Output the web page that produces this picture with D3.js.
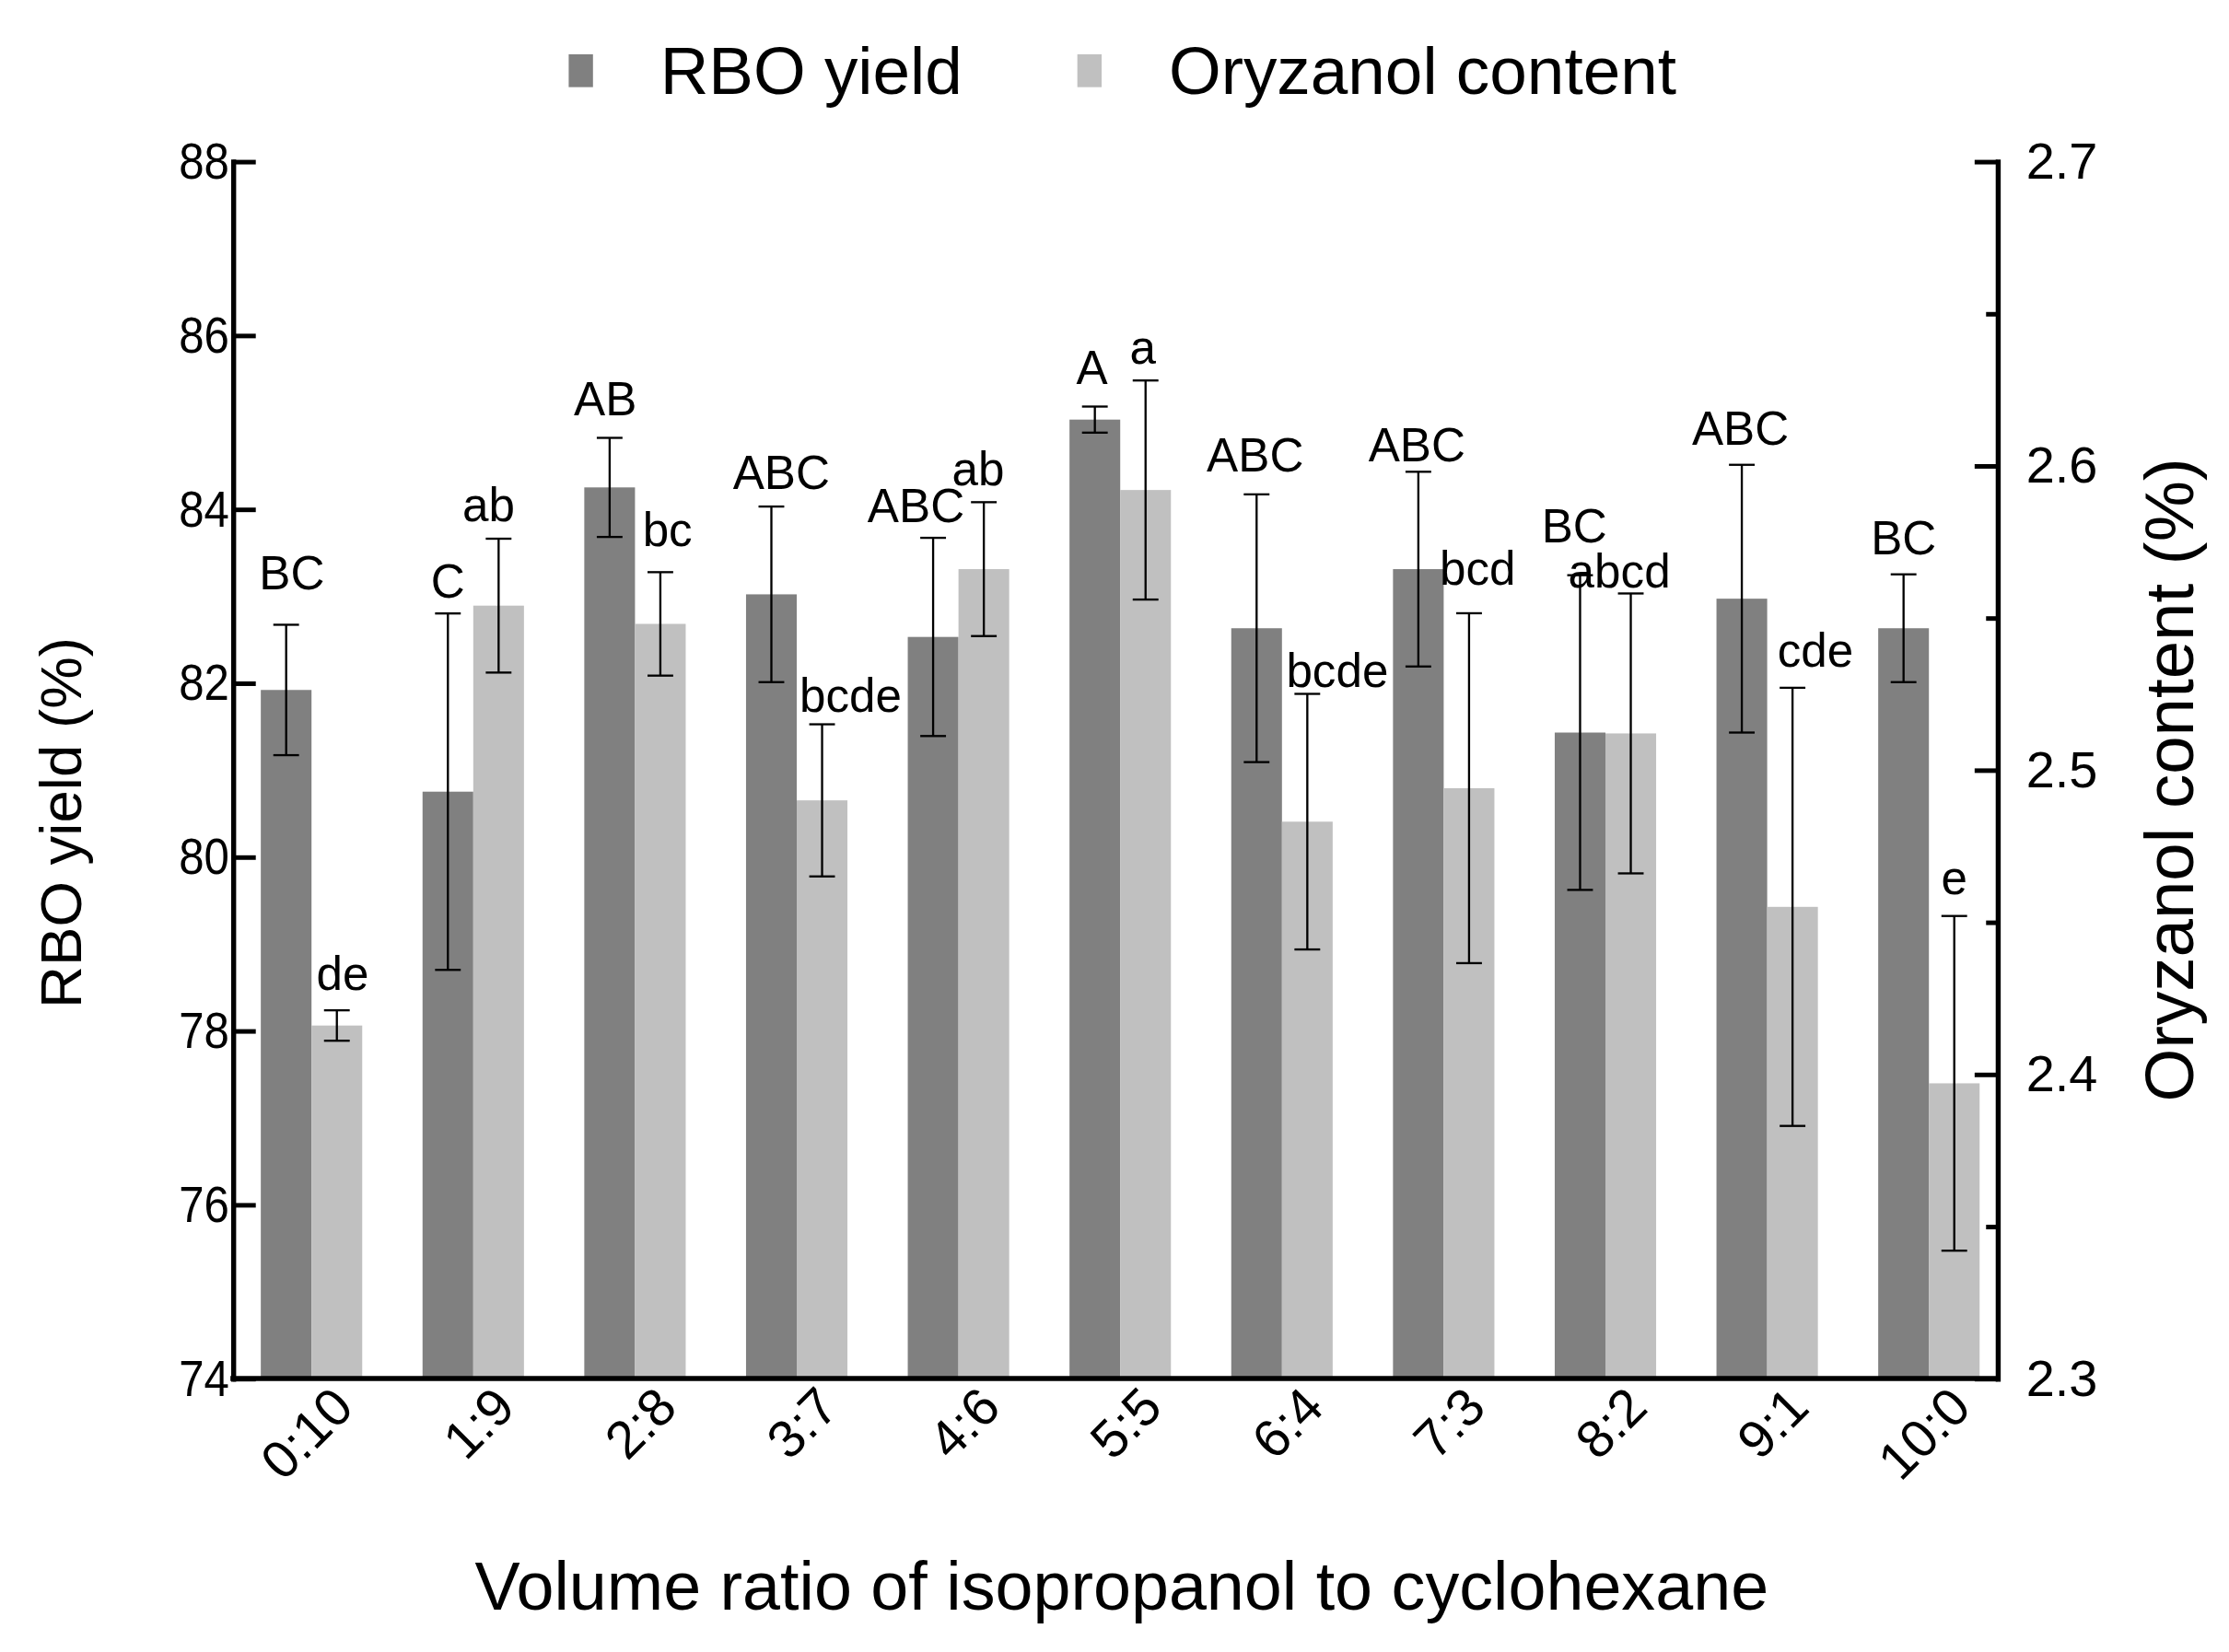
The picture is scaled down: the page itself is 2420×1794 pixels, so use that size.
<!DOCTYPE html>
<html>
<head>
<meta charset="utf-8">
<script src="https://cdn.jsdelivr.net/npm/d3@7"></script>
<style>
  body { margin: 0; background: #fff; }
  text { font-family: "Liberation Sans", Arial, sans-serif; fill: #000; }
</style>
</head>
<body>
<div id="chart"></div>
<script>
// data
const ratios = ["0:10", "1:9", "2:8", "3:7", "4:6", "5:5", "6:4", "7:3", "8:2", "9:1", "10:0"];
const rboYield = [81.92, 80.75, 84.25, 83.02, 82.53, 85.03, 82.63, 83.31, 81.43, 82.97, 82.63];
const rboErr = [0.75, 2.05, 0.57, 1.01, 1.14, 0.15, 1.54, 1.12, 1.81, 1.54, 0.62];
const oryContent = [2.416, 2.554, 2.548, 2.490, 2.566, 2.592, 2.483, 2.494, 2.512, 2.455, 2.397];
const oryErr = [0.005, 0.022, 0.017, 0.025, 0.022, 0.036, 0.042, 0.0575, 0.046, 0.072, 0.055];
const rboLetters = ["BC", "C", "AB", "ABC", "ABC", "A", "ABC", "ABC", "BC", "ABC", "BC"];
const oryLetters = ["de", "ab", "bc", "bcde", "ab", "a", "bcde", "bcd", "abcd", "cde", "e"];
const leftTicks = [74, 76, 78, 80, 82, 84, 86, 88];
const rightTicks = [2.3, 2.4, 2.5, 2.6, 2.7];
const rightMinor = [2.35, 2.45, 2.55, 2.65];
const seriesNames = ["RBO yield", "Oryzanol content"];
const colors = ["#808080", "#c0c0c0"];

// hand nudges for the significance letters [dx, gap above error bar]
const rboNudge = [[4, 25], [0, 11], [-3, 16], [7, 12], [-12, 11], [-2, 16], [-1, 16], [-1, 7], [-4, 23], [-1, 14], [0, 14]];
const oryNudge = [[4, 14], [-7, 12], [5, 18], [20, 9], [-4, 12], [-2, 12], [21, 5], [6, 20], [-8, 4], [16, 15], [0, 15]];

const W = 1560, H = 1156.5;
const plotL = 163, plotR = 1398, plotT = 113, plotB = 965;

const svg = d3.select("#chart").append("svg")
    .attr("width", 2420)
    .attr("height", 1794)
    .attr("viewBox", `0 0 ${W} ${H}`);

const x0 = d3.scaleBand().domain(ratios).range([161.4, 1406.6]).paddingInner(0.373).paddingOuter(0.1865);
const x1 = d3.scaleBand().domain([0, 1]).range([0, x0.bandwidth()]);
const yL = d3.scaleLinear().domain([74, 88]).range([plotB, plotT]);
const yR = d3.scaleLinear().domain([2.3, 2.7]).range([plotB, plotT]);

const groups = ratios.map((r, i) => ({
    r, i,
    vals: [
        { s: 0, v: rboYield[i], e: rboErr[i], y: yL, lab: rboLetters[i], n: rboNudge[i] },
        { s: 1, v: oryContent[i], e: oryErr[i], y: yR, lab: oryLetters[i], n: oryNudge[i] }
    ]
}));

const g = svg.selectAll("g.grp")
    .data(groups)
    .join("g")
    .attr("class", "grp")
    .attr("transform", d => `translate(${x0(d.r)},0)`);

const bar = g.selectAll("g.bar")
    .data(d => d.vals)
    .join("g")
    .attr("class", "bar");

bar.append("rect")
    .attr("x", d => x1(d.s))
    .attr("width", x1.bandwidth())
    .attr("y", d => d.y(d.v))
    .attr("height", d => plotB - d.y(d.v))
    .attr("fill", d => colors[d.s]);

// error bars
const cap = 9;
bar.append("line")
    .attr("x1", d => x1(d.s) + x1.bandwidth() / 2)
    .attr("x2", d => x1(d.s) + x1.bandwidth() / 2)
    .attr("y1", d => d.y(d.v + d.e))
    .attr("y2", d => d.y(d.v - d.e))
    .attr("stroke", "#000").attr("stroke-width", 1.5);
[1, -1].forEach(sign => {
    bar.append("line")
        .attr("x1", d => x1(d.s) + x1.bandwidth() / 2 - cap)
        .attr("x2", d => x1(d.s) + x1.bandwidth() / 2 + cap)
        .attr("y1", d => d.y(d.v + sign * d.e))
        .attr("y2", d => d.y(d.v + sign * d.e))
        .attr("stroke", "#000").attr("stroke-width", 1.5);
});

bar.append("text")
    .attr("x", d => x1(d.s) + x1.bandwidth() / 2 + d.n[0])
    .attr("y", d => d.y(d.v + d.e) - d.n[1])
    .attr("text-anchor", "middle")
    .attr("font-size", 33)
    .text(d => d.lab);

// axes
const axW = 3.5;
const leftAxis = svg.append("g")
    .attr("transform", `translate(${plotL},0)`)
    .call(d3.axisLeft(yL).tickValues(leftTicks).tickSizeInner(-16).tickSizeOuter(0).tickPadding(3));
leftAxis.selectAll("text")
    .attr("font-size", 36)
    .attr("transform", "scale(0.88,1)")
    .style("font-family", "Liberation Sans, Arial, sans-serif");

const rightAxis = svg.append("g")
    .attr("transform", `translate(${plotR},0)`)
    .call(d3.axisRight(yR).tickValues(rightTicks).tickFormat(d3.format(".1f"))
        .tickSizeInner(-16).tickSizeOuter(0).tickPadding(20));
rightAxis.selectAll("text").attr("font-size", 36).style("font-family", "Liberation Sans, Arial, sans-serif");

const rightMinorAxis = svg.append("g")
    .attr("transform", `translate(${plotR},0)`)
    .call(d3.axisRight(yR).tickValues(rightMinor).tickFormat("").tickSizeInner(-8).tickSizeOuter(0));
rightMinorAxis.select(".domain").remove();

[leftAxis, rightAxis, rightMinorAxis].forEach(a => {
    a.selectAll(".domain").attr("stroke-width", axW).attr("stroke-linecap", "square");
    a.selectAll(".tick line").attr("stroke-width", 3.2);
});

svg.append("line")
    .attr("x1", plotL).attr("x2", plotR)
    .attr("y1", yL(74)).attr("y2", yL(74))
    .attr("stroke", "#000").attr("stroke-width", axW).attr("stroke-linecap", "square");

// category labels, rotated
svg.append("g").selectAll("text")
    .data(ratios)
    .join("text")
    .attr("transform", d => `translate(${x0(d) + x0.bandwidth() / 2 + 31},${plotB + 22}) rotate(-45)`)
    .attr("text-anchor", "end")
    .attr("font-size", 37)
    .text(d => d);

// axis titles
svg.append("text")
    .attr("transform", `translate(57,${(plotT + plotB) / 2 + 37}) rotate(-90)`)
    .attr("text-anchor", "middle")
    .attr("font-size", 41)
    .text("RBO yield (%)");

svg.append("text")
    .attr("transform", `translate(1535,${(plotT + plotB) / 2 + 7}) rotate(-90)`)
    .attr("text-anchor", "middle")
    .attr("font-size", 48)
    .text("Oryzanol content (%)");

svg.append("text")
    .attr("x", 785).attr("y", 1127)
    .attr("text-anchor", "middle")
    .attr("font-size", 47.5)
    .text("Volume ratio of isopropanol to cyclohexane");

// legend
const legX = [398, 754];
const leg = svg.append("g").selectAll("g")
    .data(seriesNames)
    .join("g")
    .attr("transform", (d, i) => `translate(${legX[i]},0)`);
leg.append("rect")
    .attr("x", 0).attr("y", 38).attr("width", 17).attr("height", 23)
    .attr("fill", (d, i) => colors[i]);
leg.append("text")
    .attr("x", 64).attr("y", 66)
    .attr("font-size", 47)
    .text(d => d);
</script>
</body>
</html>
